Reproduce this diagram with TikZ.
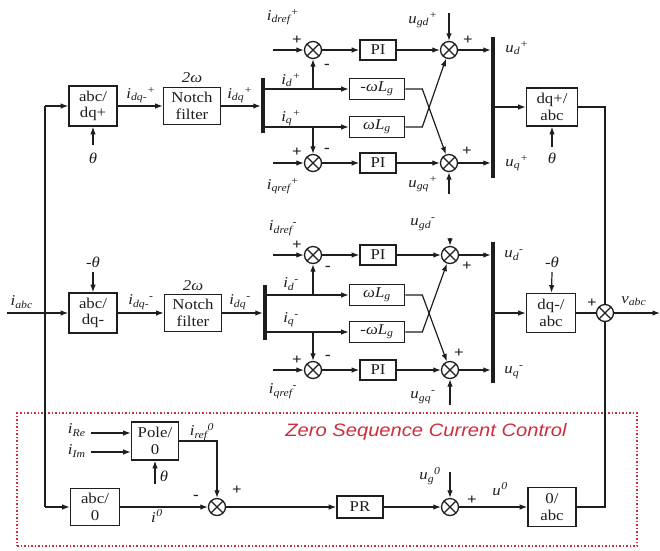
\documentclass[tikz,border=0pt]{standalone}
\usepackage{amsmath}
\usepackage{fontspec}
\setmainfont[FakeStretch=1.12]{Liberation Serif}
\newfontfamily\zsans[FakeStretch=1.12]{Liberation Sans}
\usetikzlibrary{arrows.meta}
\definecolor{zred}{RGB}{205,45,60}
\definecolor{ink}{RGB}{30,30,30}
\newcommand{\bxf}{\fontsize{15}{16.5}\selectfont}
\newcommand{\sv}[3]{\textit{#1}\ensuremath{_{\textit{#2}}{}^{\textit{#3}}}}
\begin{document}
\begin{tikzpicture}[x=1pt,y=-1pt,
  blk/.style={draw=ink, line width=1.6pt, inner sep=0pt, align=center, font=\bxf, text=ink},
  sumn/.style={circle, draw=ink, line width=1.3pt, minimum size=17pt, inner sep=0pt,
    path picture={\draw[ink, line width=1.3pt] (path picture bounding box.north west) -- (path picture bounding box.south east) (path picture bounding box.north east) -- (path picture bounding box.south west);}},
  arr/.style={draw=ink, line width=1.2pt, -{Latex[length=7.5pt,width=5.5pt]}},
  ln/.style={draw=ink, line width=1.2pt},
  barn/.style={fill=ink, minimum width=4pt, inner sep=0pt},
  lbl/.style={inner sep=0pt, font=\bxf, text=ink},
  sgn/.style={inner sep=0pt, font=\bxf\bfseries, text=ink},
  pib/.style={blk, minimum width=36pt, minimum height=20pt},
  wlb/.style={blk, minimum width=55pt, minimum height=21pt}
]
\useasboundingbox (0,0) rectangle (660,550);

% ---------- top (positive sequence) ----------
\node[blk, minimum width=48pt, minimum height=40pt] (abcp) at (93,106) {abc/\\dq+};
\node[blk, minimum width=57pt, minimum height=37pt] (notchT) at (192,106) {Notch\\filter};
\node[barn, minimum height=55pt] (barTL) at (263,105.5) {};
\node[sumn] (T1) at (313,50) {};
\node[sumn] (T2) at (449,50) {};
\node[sumn] (T3) at (313,163) {};
\node[sumn] (T4) at (449,163) {};
\node[pib] (piT1) at (378,50) {PI};
\node[pib] (piT2) at (378,163) {PI};
\node[wlb] (wT1) at (377,89) {\textit{-ωL}\ensuremath{_{\textit{g}}}};
\node[wlb] (wT2) at (377,127) {\textit{ωL}\ensuremath{_{\textit{g}}}};
\node[barn, minimum height=141pt] (barTR) at (493,107.5) {};
\node[blk, minimum width=51pt, minimum height=38pt] (dqp) at (552,107) {dq+/\\abc};

\node[lbl] (l1) at (141,95) {\sv{i}{dq-}{+}};
\node[lbl] (l2) at (192,78) {\textit{2ω}};
\node[lbl] (l3) at (240,95) {\sv{i}{dq}{+}};
\node[lbl] (l4) at (93,158) {\textit{θ}};
\node[lbl] (l5) at (283,17) {\sv{i}{dref}{+}};
\node[sgn] (l6) at (297,40) {+};
\node[sgn] (l7) at (327,66) {-};
\node[lbl] (l8) at (291,80) {\sv{i}{d}{+}};
\node[lbl] (l9) at (291,118) {\sv{i}{q}{+}};
\node[sgn] (l10) at (297,152) {+};
\node[sgn] (l11) at (327,150) {-};
\node[lbl] (l12) at (283,186) {\sv{i}{qref}{+}};
\node[lbl] (l13) at (423,20) {\sv{u}{gd}{+}};
\node[sgn] (l14) at (468,40) {+};
\node[sgn] (l15) at (467,151) {+};
\node[lbl] (l16) at (423,184) {\sv{u}{gq}{+}};
\node[lbl] (l17) at (517,48) {\sv{u}{d}{+}};
\node[lbl] (l18) at (517,163) {\sv{u}{q}{+}};
\node[lbl] (l19) at (552,158) {\textit{θ}};

\coordinate (lt) at (45,106);
\coordinate (lb) at (45,507);
\coordinate (thA) at (93,145);
\coordinate (rT1) at (273,50);
\coordinate (rT3) at (273,163);
\coordinate (uT2) at (449,13);
\coordinate (uT4) at (449,194);
\coordinate (thB) at (552,147);

% ---------- middle (negative sequence) ----------
\node[blk, minimum width=48pt, minimum height=40pt] (abcm) at (93,313) {abc/\\dq-};
\node[blk, minimum width=57pt, minimum height=37pt] (notchM) at (193,313) {Notch\\filter};
\node[barn, minimum height=55pt] (barML) at (265,312.5) {};
\node[sumn] (M1) at (313,255) {};
\node[sumn] (M2) at (450,255) {};
\node[sumn] (M3) at (313,370) {};
\node[sumn] (M4) at (450,370) {};
\node[pib] (piM1) at (378,255) {PI};
\node[pib] (piM2) at (378,370) {PI};
\node[wlb] (wM1) at (377,295) {\textit{ωL}\ensuremath{_{\textit{g}}}};
\node[wlb] (wM2) at (377,332) {\textit{-ωL}\ensuremath{_{\textit{g}}}};
\node[barn, minimum height=141pt] (barMR) at (493,312.5) {};
\node[blk, minimum width=49pt, minimum height=39pt] (dqm) at (551,313) {dq-/\\abc};
\node[sumn] (vsum) at (605,313) {};

\node[lbl] (m0) at (22,302) {\sv{i}{abc}{}};
\node[lbl] (m1) at (93,262) {\textit{-θ}};
\node[lbl] (m2) at (141,302) {\sv{i}{dq-}{-}};
\node[lbl] (m3) at (193,286) {\textit{2ω}};
\node[lbl] (m4) at (240,302) {\sv{i}{dq}{-}};
\node[lbl] (m5) at (283,228) {\sv{i}{dref}{-}};
\node[sgn] (m6) at (297,245) {+};
\node[sgn] (m7) at (328,268) {-};
\node[lbl] (m8) at (291,284) {\sv{i}{d}{-}};
\node[lbl] (m9) at (291,320) {\sv{i}{q}{-}};
\node[sgn] (m10) at (297,360) {+};
\node[sgn] (m11) at (328,357) {-};
\node[lbl] (m12) at (283,391) {\sv{i}{qref}{-}};
\node[lbl] (m13) at (423,224) {\sv{u}{gd}{-}};
\node[sgn] (m14) at (467,266) {+};
\node[sgn] (m15) at (459,353) {+};
\node[lbl] (m16) at (423,397) {\sv{u}{gq}{-}};
\node[lbl] (m17) at (514,255) {\sv{u}{d}{-}};
\node[lbl] (m18) at (514,372) {\sv{u}{q}{-}};
\node[lbl] (m19) at (552,262) {\textit{-θ}};
\node[sgn] (m20) at (592,303) {+};
\node[lbl] (m21) at (634,301) {\sv{v}{abc}{}};

\coordinate (iin) at (7,313);
\coordinate (thC) at (93,272);
\coordinate (thD) at (552,272);
\coordinate (rM1) at (273,255);
\coordinate (rM3) at (273,370);
\coordinate (uM2) at (450,238);
\coordinate (uM4) at (450,405);
\coordinate (vout) at (660,313);

% ---------- bottom (zero sequence) ----------
\node[draw=zred, dotted, line width=1.5pt, minimum width=620pt, minimum height=133pt, inner sep=0pt] (zone) at (327,479.5) {};
\node[inner sep=0pt, text=zred, font=\fontsize{18}{20}\selectfont\zsans\itshape] (ztxt) at (426,432) {Zero Sequence Current Control};
\node[blk, minimum width=47pt, minimum height=38pt] (pole) at (155,441) {Pole/\\0};
\node[blk, minimum width=49pt, minimum height=37pt] (abc0) at (95,507) {abc/\\0};
\node[sumn] (zsum) at (217,507) {};
\node[blk, minimum width=46pt, minimum height=22pt] (pr) at (360,507) {PR};
\node[sumn] (ugsum) at (450,507) {};
\node[blk, minimum width=48pt, minimum height=39pt] (zabc) at (552,507) {0/\\abc};

\node[lbl] (b1) at (77,430) {\sv{i}{Re}{}};
\node[lbl] (b2) at (77,451) {\sv{i}{Im}{}};
\node[lbl] (b3) at (164,476) {\textit{θ}};
\node[lbl] (b4) at (202,432) {\sv{i}{ref}{0}};
\node[lbl] (b5) at (157,517) {\sv{i}{}{0}};
\node[sgn] (b6) at (196,497) {-};
\node[sgn] (b7) at (237,490) {+};
\node[lbl] (b8) at (430,476) {\sv{u}{g}{0}};
\node[sgn] (b9) at (472,500) {+};
\node[lbl] (b10) at (500,490) {\sv{u}{}{0}};

\coordinate (ire) at (91,433);
\coordinate (iim) at (91,452);
\coordinate (thE) at (155,484);
\coordinate (ugin) at (450,472);

% ---------- connectors ----------
\draw[ln] (lt) -- (lb);
\draw[arr] (lt) -- (abcp);
\draw[arr] (thA) -- (abcp);
\draw[arr] (abcp) -- (notchT);
\draw[arr] (notchT) -- (notchT -| barTL.west);
\draw[arr] (rT1) -- (T1);
\draw[arr] (rT3) -- (T3);
\draw[arr] (T1) -- (piT1);
\draw[arr] (T3) -- (piT2);
\draw[arr] (piT1) -- (T2);
\draw[arr] (piT2) -- (T4);
\draw[arr] (uT2) -- (T2);
\draw[arr] (uT4) -- (T4);
\draw[arr] (T2) -- (T2 -| barTR.west);
\draw[arr] (T4) -- (T4 -| barTR.west);
\draw[arr] (barTL.east |- wT1) -- (wT1);
\draw[arr] (barTL.east |- wT2) -- (wT2);
\draw[arr] (T1 |- wT1) -- (T1);
\draw[arr] (T3 |- wT2) -- (T3);
\draw[arr] (wT1.east) -- ++(17,0) -- (T4);
\draw[arr] (wT2.east) -- ++(17,0) -- (T2);
\draw[arr] (barTR.east |- dqp) -- (dqp);
\draw[arr] (thB) -- (dqp);
\draw[ln] (dqp.east) -| (vsum.north);

\draw[arr] (iin) -- (abcm);
\draw[arr] (thC) -- (abcm);
\draw[arr] (abcm) -- (notchM);
\draw[arr] (notchM) -- (notchM -| barML.west);
\draw[arr] (rM1) -- (M1);
\draw[arr] (rM3) -- (M3);
\draw[arr] (M1) -- (piM1);
\draw[arr] (M3) -- (piM2);
\draw[arr] (piM1) -- (M2);
\draw[arr] (piM2) -- (M4);
\draw[arr] (uM2) -- (M2);
\draw[arr] (uM4) -- (M4);
\draw[arr] (M2) -- (M2 -| barMR.west);
\draw[arr] (M4) -- (M4 -| barMR.west);
\draw[arr] (barML.east |- wM1) -- (wM1);
\draw[arr] (barML.east |- wM2) -- (wM2);
\draw[arr] (M1 |- wM1) -- (M1);
\draw[arr] (M3 |- wM2) -- (M3);
\draw[arr] (wM1.east) -- ++(17,0) -- (M4);
\draw[arr] (wM2.east) -- ++(17,0) -- (M2);
\draw[arr] (barMR.east |- dqm) -- (dqm);
\draw[arr] (thD) -- (dqm);
\draw[ln] (dqm) -- (vsum);
\draw[arr] (vsum) -- (vout);

\draw[arr] (ire) -- (ire -| pole.west);
\draw[arr] (iim) -- (iim -| pole.west);
\draw[arr] (thE) -- (pole);
\draw[arr] (pole.east) -| (zsum);
\draw[arr] (lb) -- (abc0);
\draw[arr] (abc0) -- (zsum);
\draw[arr] (zsum) -- (pr);
\draw[arr] (pr) -- (ugsum);
\draw[arr] (ugin) -- (ugsum);
\draw[arr] (ugsum) -- (zabc);
\draw[ln] (zabc.east) -| (vsum.south);
\end{tikzpicture}
\end{document}
